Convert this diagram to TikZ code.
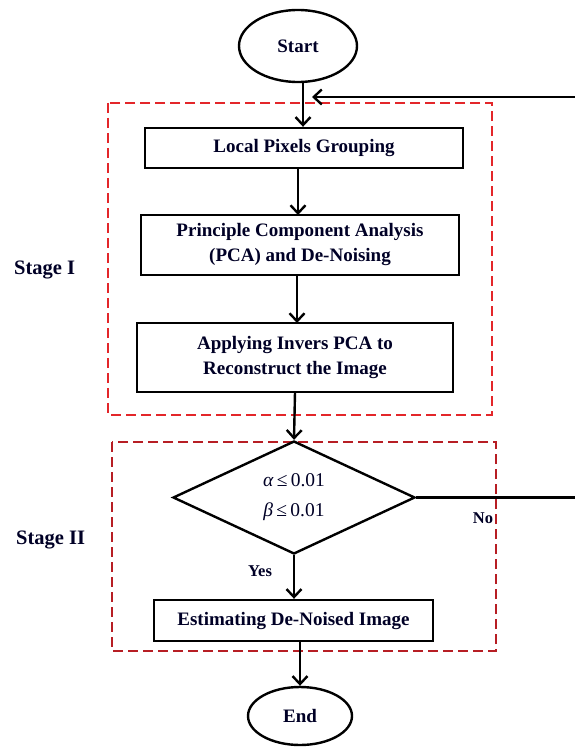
\documentclass[tikz,border=0pt]{standalone}
\usepackage{fontspec}
\setmainfont{Liberation Serif}
\usetikzlibrary{shapes.geometric,arrows.meta}
\begin{document}
\begin{tikzpicture}[x=1pt,y=-1pt,
  every node/.style={font=\fontsize{19}{25}\selectfont\bfseries, text=black!85!blue},
  flowbox/.style={draw=black, line width=2.4pt, rectangle, inner sep=0pt, align=center},
  terminal/.style={draw=black, line width=2.4pt, ellipse, inner sep=0pt},
  decision/.style={draw=black, line width=2.4pt, diamond, inner sep=0pt, align=center,
    font=\fontsize{19.5}{30}\selectfont},
  flow/.style={line width=2.4pt, -{Straight Barb[length=8pt,width=15pt,line width=2.4pt]}},
  loopline/.style={line width=2.4pt},
  stageframe/.style={line width=2.8pt, dash pattern=on 10pt off 5pt},
  plainlabel/.style={inner sep=0pt}]
\useasboundingbox[fill=white] (0,0) rectangle (574,749);

\definecolor{stageonered}{HTML}{E3262A}
\definecolor{stagetwored}{HTML}{B71E24}

% stage frames
\draw[stageframe, draw=stageonered] (108,103) rectangle (492,415);
\draw[stageframe, draw=stagetwored] (112,442) rectangle (496,651);

% nodes
\node[terminal, minimum width=118pt, minimum height=72pt] (start) at (298,46) {Start};
\node[flowbox, minimum width=318pt, minimum height=40pt] (group) at (304,148) {Local Pixels Grouping};
\node[flowbox, minimum width=318pt, minimum height=60pt] (pca) at (300,245)
  {Principle Component Analysis\\(PCA) and De-Noising};
\node[flowbox, minimum width=316pt, minimum height=69pt] (inv) at (295,357.5)
  {Applying Invers PCA to\\Reconstruct the Image};
\node[decision, minimum width=242pt, minimum height=113pt] (test) at (294,497.5)
  {\textit{α}\,≤\,0.01\\\textit{β}\,≤\,0.01};
\node[flowbox, minimum width=279pt, minimum height=41pt] (est) at (293.5,620.5) {Estimating De-Noised Image};
\node[terminal, minimum width=104pt, minimum height=58pt] (end) at (300,716) {End};

% side labels
\node[plainlabel, anchor=west, font=\fontsize{20.5}{25}\selectfont\bfseries] (s1) at (14,270) {Stage I};
\node[plainlabel, anchor=west, font=\fontsize{20.5}{25}\selectfont\bfseries] (s2) at (16,540) {Stage II};
\node[plainlabel, font=\fontsize{16.5}{20}\selectfont\bfseries] (no) at (483,518) {No};
\node[plainlabel, font=\fontsize{16.5}{20}\selectfont\bfseries] (yes) at (260,571) {Yes};

% main flow
\coordinate (c0) at (303,82);
\draw[flow] (c0) -- (c0 |- group.north);
\draw[flow] (298,168) -- (298,215);
\draw[flow] (297,275) -- (297,323);
\draw[flow] (295,392) -- (test.north);
\draw[flow] (test.south) -- (test.south |- est.north);
\draw[flow] (est.south -| 300,0) -- (end.north);

% feedback loop from the decision back to the top
\coordinate (fbR) at (578,497.5);
\coordinate (fbT) at (578,97);
\coordinate (fbEnd) at (312,97);
\draw[flow] (test.east) -- (fbR) -- (fbT) -- (fbEnd);
\end{tikzpicture}
\end{document}
